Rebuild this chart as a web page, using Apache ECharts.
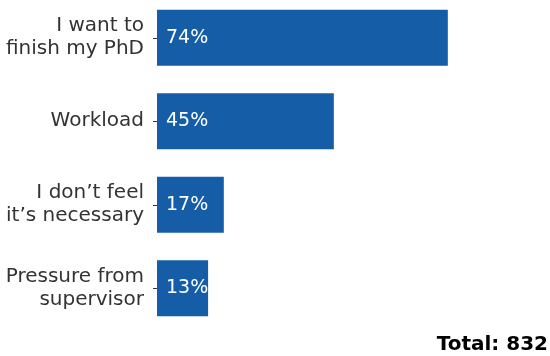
<!DOCTYPE html>
<html><head><meta charset="utf-8">
<script src="https://cdn.jsdelivr.net/npm/echarts@6/dist/echarts.min.js"></script>
<style>html,body{margin:0;padding:0;background:#fff}#c{width:550px;height:356px}</style>
</head><body><div id="c"></div>
<script>
const categories = ["I want to\nfinish my PhD", "Workload", "I don\u2019t feel\nit\u2019s necessary", "Pressure from\nsupervisor"];
const values = [74, 45, 17, 13];
const totalText = "Total: 832";

const chart = echarts.init(document.getElementById('c'), null, {renderer: 'canvas'});
chart.setOption({
  animation: false,
  grid: {left: 157, right: 0, top: -4, height: 334, outerBoundsMode: 'none', containLabel: false},
  xAxis: {type: 'value', min: 0, max: 100, show: false},
  yAxis: {
    type: 'category', data: categories, inverse: true,
    axisLine: {show: false},
    axisTick: {show: true, alignWithLabel: true, length: 4, lineStyle: {color: '#333'}},
    axisLabel: {margin: 13, fontFamily: 'DejaVu Sans', fontSize: 20, color: '#333', lineHeight: 23, align: 'right'}
  },
  series: [{
    type: 'bar', data: values, barWidth: 56,
    itemStyle: {color: '#155ea7'},
    label: {show: true, position: 'insideLeft', distance: 9, formatter: '{c}%', color: '#fff', fontFamily: 'DejaVu Sans', fontSize: 19}
  }],
  graphic: [{
    type: 'text', right: 2, bottom: 1,
    style: {text: totalText, fontFamily: 'DejaVu Sans', fontWeight: 'bold', fontSize: 20, fill: '#000'}
  }]
});
</script></body></html>
